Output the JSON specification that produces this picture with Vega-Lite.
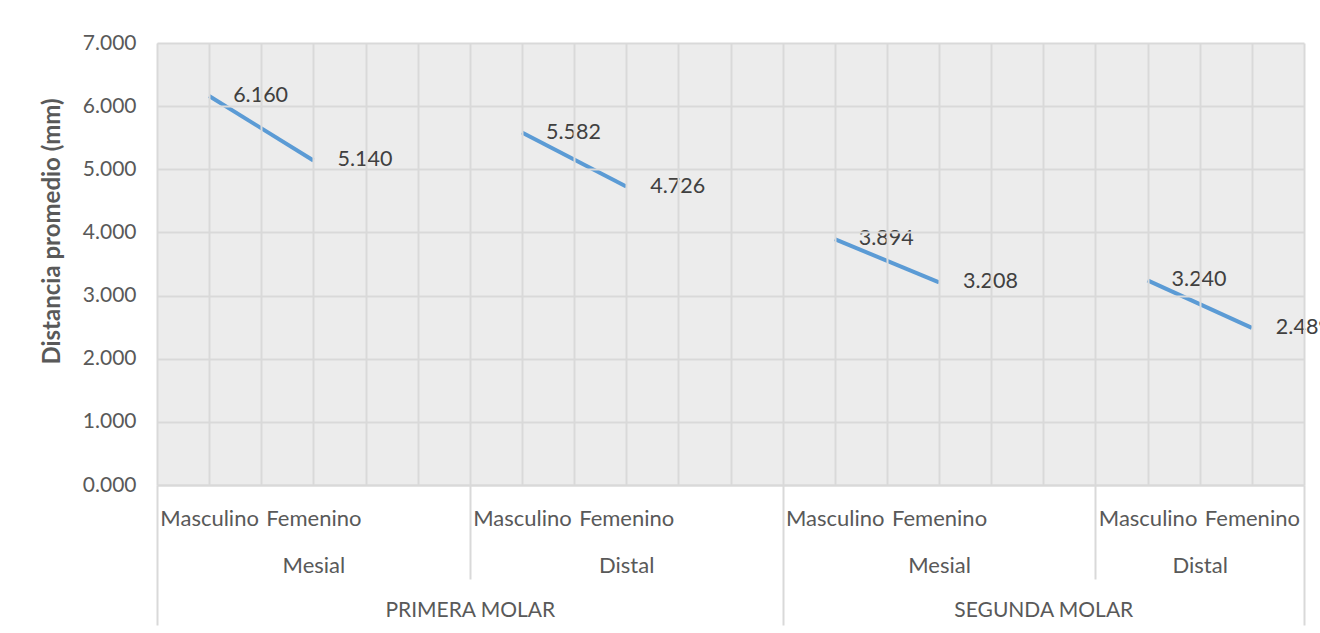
{
  "$schema": "https://vega.github.io/schema/vega-lite/v6.json",
  "autosize": {"type": "none"},
  "padding": {"left": 157, "top": 43, "right": 16, "bottom": 148},
  "width": 1147,
  "height": 442,
  "background": "#ffffff",
  "view": {"fill": "#ececec", "stroke": null},
  "config": {"font": "Lato"},
  "data": {
    "values": [
      {"molar": "PRIMERA MOLAR", "lado": "Mesial", "sexo": "Masculino", "categoria": "PRIMERA MOLAR|Mesial|Masculino", "distancia": 6.160},
      {"molar": "PRIMERA MOLAR", "lado": "Mesial", "sexo": "Femenino", "categoria": "PRIMERA MOLAR|Mesial|Femenino", "distancia": 5.140},
      {"molar": "PRIMERA MOLAR", "lado": "Distal", "sexo": "Masculino", "categoria": "PRIMERA MOLAR|Distal|Masculino", "distancia": 5.582},
      {"molar": "PRIMERA MOLAR", "lado": "Distal", "sexo": "Femenino", "categoria": "PRIMERA MOLAR|Distal|Femenino", "distancia": 4.726},
      {"molar": "SEGUNDA MOLAR", "lado": "Mesial", "sexo": "Masculino", "categoria": "SEGUNDA MOLAR|Mesial|Masculino", "distancia": 3.894},
      {"molar": "SEGUNDA MOLAR", "lado": "Mesial", "sexo": "Femenino", "categoria": "SEGUNDA MOLAR|Mesial|Femenino", "distancia": 3.208},
      {"molar": "SEGUNDA MOLAR", "lado": "Distal", "sexo": "Masculino", "categoria": "SEGUNDA MOLAR|Distal|Masculino", "distancia": 3.240},
      {"molar": "SEGUNDA MOLAR", "lado": "Distal", "sexo": "Femenino", "categoria": "SEGUNDA MOLAR|Distal|Femenino", "distancia": 2.489}
    ]
  },
  "resolve": {"axis": {"x": "independent"}},
  "layer": [
    {
      "mark": {"type": "line", "color": "#5b9bd5", "strokeWidth": 4, "strokeCap": "butt"},
      "encoding": {
        "x": {
          "field": "categoria",
          "type": "ordinal",
          "sort": null,
          "scale": {
            "type": "point",
            "padding": 0,
            "domain": [
              "PRIMERA MOLAR|Mesial|·0", "PRIMERA MOLAR|Mesial|Masculino", "PRIMERA MOLAR|Mesial|·2", "PRIMERA MOLAR|Mesial|Femenino", "PRIMERA MOLAR|Mesial|·4", "PRIMERA MOLAR|Mesial|·5",
              "PRIMERA MOLAR|Distal|·0", "PRIMERA MOLAR|Distal|Masculino", "PRIMERA MOLAR|Distal|·2", "PRIMERA MOLAR|Distal|Femenino", "PRIMERA MOLAR|Distal|·4", "PRIMERA MOLAR|Distal|·5",
              "SEGUNDA MOLAR|Mesial|·0", "SEGUNDA MOLAR|Mesial|Masculino", "SEGUNDA MOLAR|Mesial|·2", "SEGUNDA MOLAR|Mesial|Femenino", "SEGUNDA MOLAR|Mesial|·4", "SEGUNDA MOLAR|Mesial|·5",
              "SEGUNDA MOLAR|Distal|·0", "SEGUNDA MOLAR|Distal|Masculino", "SEGUNDA MOLAR|Distal|·2", "SEGUNDA MOLAR|Distal|Femenino", "SEGUNDA MOLAR|Distal|·4"
            ]
          },
          "axis": {
            "orient": "bottom",
            "title": null,
            "labels": false,
            "ticks": false,
            "domain": true,
            "domainColor": "#d9d9d9",
            "domainWidth": 2,
            "grid": true,
            "gridColor": "#d9d9d9",
            "gridWidth": 2,
            "zindex": 1
          }
        },
        "y": {
          "field": "distancia",
          "type": "quantitative",
          "scale": {"domain": [0, 7], "nice": false, "zero": true},
          "axis": {
            "title": "Distancia promedio (mm)",
            "titleFont": "Lato",
            "titleFontSize": 24,
            "titleFontWeight": "bold",
            "titleColor": "#595959",
            "titlePadding": 18,
            "titleY": 188,
            "values": [0, 1, 2, 3, 4, 5, 6, 7],
            "format": ".3f",
            "labelFont": "Lato",
            "labelFontSize": 21,
            "labelColor": "#595959",
            "labelPadding": 21,
            "ticks": false,
            "tickSize": 0,
            "domain": false,
            "grid": true,
            "gridColor": "#d9d9d9",
            "gridWidth": 2,
            "zindex": 1
          }
        },
        "detail": [{"field": "molar"}, {"field": "lado"}]
      }
    },
    {
      "mark": {"type": "text", "align": "left", "baseline": "middle", "dx": 24, "dy": 0, "fontSize": 21.5, "font": "Lato", "color": "#404040"},
      "encoding": {
        "x": {"field": "categoria", "type": "ordinal", "sort": null, "axis": null},
        "y": {"field": "distancia", "type": "quantitative"},
        "text": {"field": "distancia", "type": "quantitative", "format": ".3f"}
      }
    },
    {
      "mark": {"type": "point", "opacity": 0},
      "encoding": {
        "x": {
          "field": "categoria", "type": "ordinal", "sort": null,
          "axis": {
            "orient": "bottom",
            "title": null,
            "values": [
              "PRIMERA MOLAR|Mesial|Masculino", "PRIMERA MOLAR|Mesial|Femenino",
              "PRIMERA MOLAR|Distal|Masculino", "PRIMERA MOLAR|Distal|Femenino",
              "SEGUNDA MOLAR|Mesial|Masculino", "SEGUNDA MOLAR|Mesial|Femenino",
              "SEGUNDA MOLAR|Distal|Masculino", "SEGUNDA MOLAR|Distal|Femenino"
            ],
            "labelExpr": "split(datum.value, '|')[2]",
            "labelAngle": 0,
            "labelAlign": "center",
            "labelBaseline": "middle",
            "labelPadding": 33,
            "labelOverlap": false,
            "labelBound": false,
            "labelFlush": false,
            "labelLimit": 0,
            "labelFont": "Lato",
            "labelFontSize": 22,
            "labelColor": "#595959",
            "ticks": false,
            "tickSize": 0,
            "domain": false,
            "grid": false
          }
        }
      }
    },
    {
      "mark": {"type": "point", "opacity": 0},
      "encoding": {
        "x": {
          "field": "categoria", "type": "ordinal", "sort": null,
          "axis": {
            "orient": "bottom",
            "title": null,
            "values": [
              "PRIMERA MOLAR|Mesial|Femenino", "PRIMERA MOLAR|Distal|Femenino",
              "SEGUNDA MOLAR|Mesial|Femenino", "SEGUNDA MOLAR|Distal|·2"
            ],
            "labelExpr": "split(datum.value, '|')[1]",
            "labelAngle": 0,
            "labelAlign": "center",
            "labelBaseline": "middle",
            "labelPadding": 80,
            "labelOverlap": false,
            "labelBound": false,
            "labelFlush": false,
            "labelLimit": 0,
            "labelFont": "Lato",
            "labelFontSize": 22,
            "labelColor": "#595959",
            "ticks": false,
            "tickSize": 0,
            "domain": false,
            "grid": false
          }
        }
      }
    },
    {
      "mark": {"type": "point", "opacity": 0},
      "encoding": {
        "x": {
          "field": "categoria", "type": "ordinal", "sort": null,
          "axis": {
            "orient": "bottom",
            "title": null,
            "values": ["PRIMERA MOLAR|Distal|·0", "SEGUNDA MOLAR|Mesial|·5"],
            "labelExpr": "split(datum.value, '|')[0]",
            "labelAngle": 0,
            "labelAlign": "center",
            "labelBaseline": "middle",
            "labelPadding": 125,
            "labelOverlap": false,
            "labelBound": false,
            "labelFlush": false,
            "labelLimit": 0,
            "labelFont": "Lato",
            "labelFontSize": 21,
            "labelColor": "#595959",
            "ticks": false,
            "tickSize": 0,
            "domain": false,
            "grid": false
          }
        }
      }
    },
    {
      "mark": {"type": "point", "opacity": 0},
      "encoding": {
        "x": {
          "field": "categoria", "type": "ordinal", "sort": null,
          "axis": {
            "orient": "bottom",
            "title": null,
            "values": ["PRIMERA MOLAR|Distal|·0", "SEGUNDA MOLAR|Distal|·0"],
            "labels": false,
            "ticks": true,
            "tickSize": 94,
            "tickColor": "#d9d9d9",
            "tickWidth": 2,
            "domain": false,
            "grid": false
          }
        }
      }
    },
    {
      "mark": {"type": "point", "opacity": 0},
      "encoding": {
        "x": {
          "field": "categoria", "type": "ordinal", "sort": null,
          "axis": {
            "orient": "bottom",
            "title": null,
            "values": ["PRIMERA MOLAR|Mesial|·0", "SEGUNDA MOLAR|Mesial|·0", "SEGUNDA MOLAR|Distal|·4"],
            "labels": false,
            "ticks": true,
            "tickSize": 140,
            "tickColor": "#d9d9d9",
            "tickWidth": 2,
            "domain": false,
            "grid": false
          }
        }
      }
    }
  ]
}
